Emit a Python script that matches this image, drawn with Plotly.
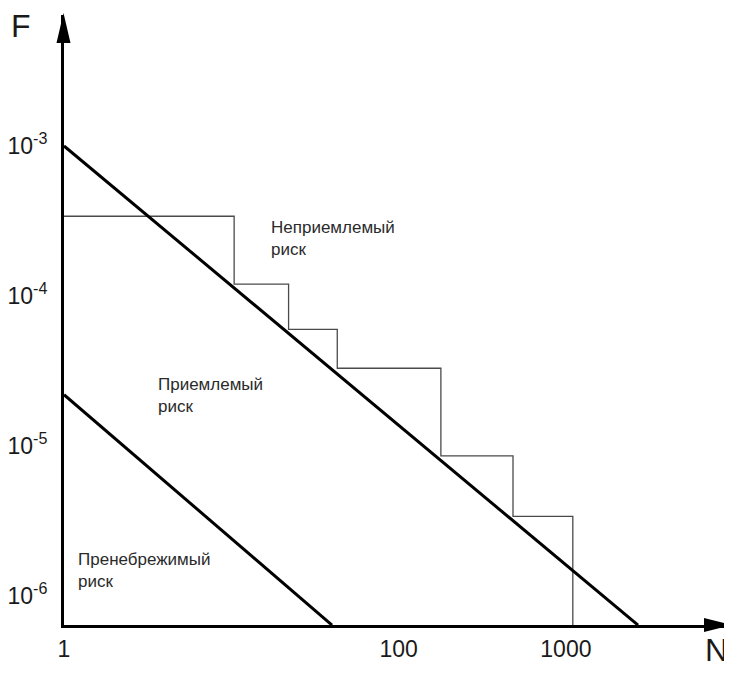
import numpy as np
import plotly.graph_objects as go

# ---- data ----
# upper boundary (unacceptable / acceptable)
upper_N = [1, 2700]
upper_F = [1.0e-3, 6.4e-7]
# lower boundary (acceptable / negligible)
lower_N = [1, 40]
lower_F = [2.2e-5, 6.4e-7]
# step curve
step_N = [1, 10.4, 22, 43, 179, 483, 1100]
step_F = [3.4e-4, 1.2e-4, 6.0e-5, 3.3e-5, 8.6e-6, 3.4e-6, 6.4e-7]

x_tickvals = [1, 100, 1000]
x_ticktext = ["1", "100", "1000"]
y_tickvals = [1e-3, 1e-4, 1e-5, 1e-6]
y_ticktext = ["10<sup>-3</sup>", "10<sup>-4</sup>", "10<sup>-5</sup>", "10<sup>-6</sup>"]

region_labels = ["Неприемлемый<br>риск", "Приемлемый<br>риск", "Пренебрежимый<br>риск"]

# ---- layout geometry (page body has an 8px margin) ----
OFF = 8
W, H = 732 - OFF, 685 - OFF
AX_X, AX_Y, TOP, RIGHT = 64, 625, 15, 731   # reference-pixel frame of the plot area
L = AX_X - OFF
T = TOP - OFF
B = H - (AX_Y - OFF)
R = W - (RIGHT - OFF)
plot_w = W - L - R
plot_h = H - T - B

def px(xp):
    return (xp - AX_X) / plot_w

def py(yp):
    return (AX_Y - yp) / plot_h

FONT = "Liberation Sans, Arial, sans-serif"

fig = go.Figure()
fig.add_trace(go.Scatter(x=step_N, y=step_F, mode="lines", line_shape="hv",
                         line=dict(color="#4a4a4a", width=1.3), hoverinfo="skip"))
fig.add_trace(go.Scatter(x=upper_N, y=upper_F, mode="lines",
                         line=dict(color="#000000", width=3), hoverinfo="skip"))
fig.add_trace(go.Scatter(x=lower_N, y=lower_F, mode="lines",
                         line=dict(color="#000000", width=3), hoverinfo="skip"))

fig.update_layout(
    width=W, height=H,
    margin=dict(l=L, r=R, t=T, b=B, pad=0, autoexpand=False),
    paper_bgcolor="white", plot_bgcolor="white",
    showlegend=False,
    font=dict(family=FONT, color="#1a1a1a"),
)
fig.update_xaxes(type="log", range=[0, 3.987], showgrid=False, zeroline=False,
                 automargin=False,
                 showline=True, linecolor="black", linewidth=3,
                 tickvals=x_tickvals, ticktext=x_ticktext, ticks="",
                 tickfont=dict(size=23, family=FONT, color="#1a1a1a"),
                 ticklabelstandoff=1)
fig.update_yaxes(type="log", range=[-6.193, -2.127], showgrid=False, zeroline=False,
                 automargin=False,
                 showline=True, linecolor="black", linewidth=3,
                 tickvals=y_tickvals, ticktext=y_ticktext, ticks="",
                 tickfont=dict(size=23, family=FONT, color="#1a1a1a"),
                 ticklabelstandoff=9)

# arrowheads
fig.add_shape(type="path", xref="paper", yref="paper",
              path=f"M {px(63.5)} {py(13)} L {px(56.5)} {py(43)} L {px(70.5)} {py(43)} Z",
              fillcolor="black", line=dict(color="black", width=0))
fig.add_shape(type="path", xref="paper", yref="paper",
              path=f"M {px(732)} {py(625)} L {px(704)} {py(618)} L {px(704)} {py(632)} Z",
              fillcolor="black", line=dict(color="black", width=0))

# axis names
fig.add_annotation(text="F", xref="paper", yref="paper", x=px(21), y=py(26),
                   xanchor="center", yanchor="middle",
                   showarrow=False, font=dict(size=32, family=FONT, color="#1a1a1a"))
fig.add_annotation(text="N", xref="paper", yref="paper", x=px(716), y=py(650),
                   xanchor="center", yanchor="middle",
                   showarrow=False, font=dict(size=32, family=FONT, color="#1a1a1a"))

# region labels
for txt, (xl, yc) in zip(region_labels, [(269, 238), (156, 395), (76, 570)]):
    fig.add_annotation(text=txt, xref="paper", yref="paper", x=px(xl), y=py(yc),
                       xanchor="left", yanchor="middle", align="left", showarrow=False,
                       font=dict(size=17, family=FONT, color="#2a2a2a"))

fig.write_html("out.html")
